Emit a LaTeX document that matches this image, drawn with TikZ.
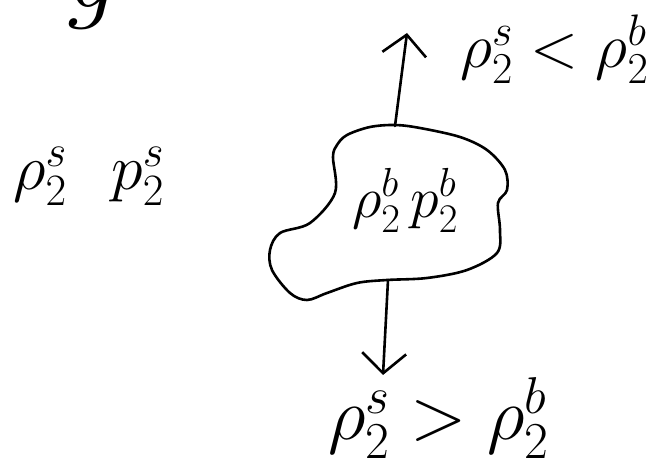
\RequirePackage{fix-cm}
\documentclass[tikz,border=0pt]{standalone}
\usetikzlibrary{arrows.meta}
\begin{document}
\begin{tikzpicture}[x=1pt,y=-1pt,
  stroke/.style={line width=2.6pt, line cap=round, line join=round},
  conn/.style={stroke, -{Straight Barb[length=20pt,width=44pt]}},
  lbl/.style={inner sep=0pt, anchor=base west},
]
\useasboundingbox (0,0) rectangle (657,470);
\clip (0,0) rectangle (657,470);
% partial letter cut off at the top
\node[inner sep=0pt, anchor=base] (g) at (88,8) {\fontsize{110}{110}\selectfont\itshape g};
% blob
\draw[stroke] plot[smooth cycle, tension=0.55] coordinates {
 (395,125) (420,128) (460,137) (487,150) (505,170) (507,190) (498,203)
 (500,230) (497,253) (467,270) (427,278) (387,280) (357,283) (327,293)
 (307,300) (290,293) (272,270) (270,250) (280,233) (310,223) (335,193)
 (333,157) (337,145) (347,135) (370,127)};
\coordinate (blobtop) at (395,126);
\coordinate (blobbot) at (388,280);
\coordinate (uptip) at (407,33);
\coordinate (downtip) at (383,375);
\draw[conn] (blobtop) -- (uptip);
\draw[conn] (blobbot) -- (downtip);
% labels
\node[lbl] (inside) at (352,218) {\fontsize{58}{58}\selectfont $\rho_2^b\,p_2^b$};
\node[lbl] (left) at (13,190) {\fontsize{64}{64}\selectfont $\rho_2^s\hspace{0.7em}p_2^s$};
\node[lbl] (up) at (460,68) {\fontsize{63}{63}\selectfont $\rho_2^s<\rho_2^b$};
\node[lbl] (down) at (328,440) {\fontsize{74}{74}\selectfont $\rho_2^s>\rho_2^b$};
\end{tikzpicture}
\end{document}
